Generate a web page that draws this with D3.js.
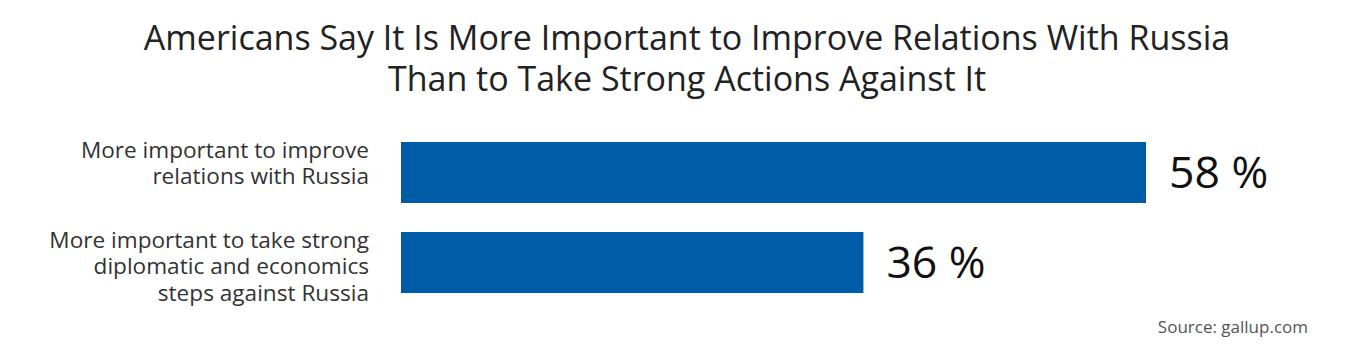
<!DOCTYPE html>
<html>
<head>
<meta charset="utf-8">
<script src="https://cdn.jsdelivr.net/npm/d3@7"></script>
<style>
  body { margin: 0; background: #fff; }
  text { font-family: "Open Sans", sans-serif; }
</style>
</head>
<body>
<div id="chart"></div>
<script>
const titleLines = [
  "Americans Say It Is More Important to Improve Relations With Russia",
  "Than to Take Strong Actions Against It"
]
const categories = [
  ["More important to improve", "relations with Russia"],
  ["More important to take strong", "diplomatic and economics", "steps against Russia"]
]
const values = [58, 36]
const source = "Source: gallup.com"

const width = 1360
const height = 360
const margin = { top: 142, left: 401 }

const svg = d3
  .select("#chart")
  .append("svg")
  .attr("width", width)
  .attr("height", height)

// Title
svg
  .append("g")
  .selectAll("text")
  .data(titleLines)
  .join("text")
  .attr("x", 687)
  .attr("y", (d, i) => 50 + i * 41)
  .attr("text-anchor", "middle")
  .attr("font-size", 34)
  .attr("fill", "#222")
  .text((d) => d)

// Scales
const x = d3.scaleLinear().domain([0, 58]).range([margin.left, 1146])
const y = d3
  .scaleBand()
  .domain(d3.range(values.length))
  .range([margin.top, 293])
  .paddingInner(29 / 90)

// Bars
svg
  .append("g")
  .selectAll("rect")
  .data(values)
  .join("rect")
  .attr("x", x(0))
  .attr("y", (d, i) => y(i))
  .attr("width", (d) => x(d) - x(0))
  .attr("height", y.bandwidth())
  .attr("fill", "#015ca8")

// Value labels
svg
  .append("g")
  .selectAll("text")
  .data(values)
  .join("text")
  .attr("x", (d) => x(d) + 23)
  .attr("y", (d, i) => y(i) + y.bandwidth() / 2 + 15.5)
  .attr("font-size", 44.5)
  .attr("fill", "#111")
  .text((d) => `${d} %`)

// Category labels, top-aligned with their bar
const lineH = 26.5
const labels = svg
  .append("g")
  .selectAll("text")
  .data(categories)
  .join("text")
  .attr("text-anchor", "end")
  .attr("font-size", 22.6)
  .attr("fill", "#333")
  .attr("transform", (d, i) => `translate(369,${y(i) + 15.5})`)

labels
  .selectAll("tspan")
  .data((d) => d)
  .join("tspan")
  .attr("x", 0)
  .attr("y", (d, i) => i * lineH)
  .text((d) => d)

// Source
svg
  .append("text")
  .attr("x", 1308)
  .attr("y", 333)
  .attr("text-anchor", "end")
  .attr("font-size", 17)
  .attr("fill", "#555")
  .text(source)
</script>
</body>
</html>
